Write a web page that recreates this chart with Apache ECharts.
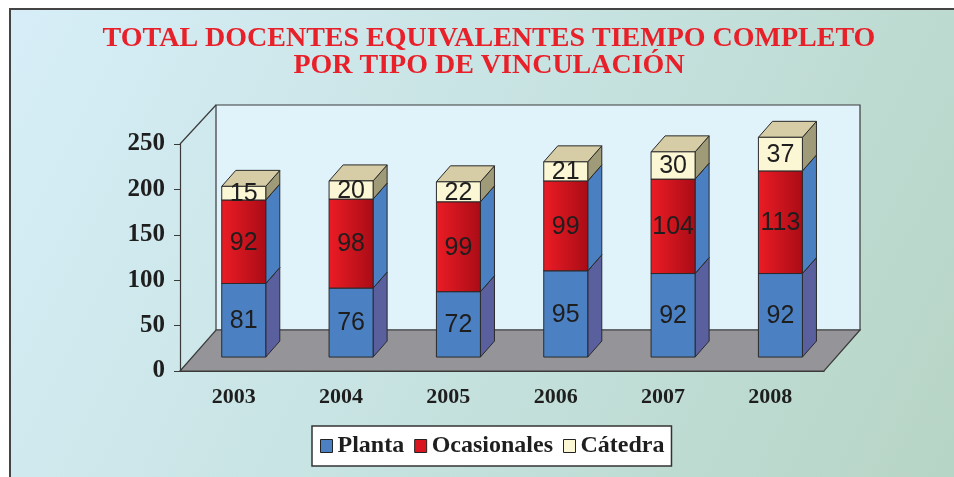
<!DOCTYPE html>
<html>
<head>
<meta charset="utf-8">
<script src="https://cdn.jsdelivr.net/npm/echarts@6/dist/echarts.min.js"></script>
<style>html,body{margin:0;padding:0;background:#fff;}#c{width:954px;height:477px;}</style>
</head>
<body>
<div id="c"></div>
<script>
const years = ['2003', '2004', '2005', '2006', '2007', '2008'];
const planta = [81, 76, 72, 95, 92, 92];
const ocasionales = [92, 98, 99, 99, 104, 113];
const catedra = [15, 20, 22, 21, 30, 37];
const seriesNames = ['Planta', 'Ocasionales', 'Cátedra'];
const yMin = 0, yMax = 250, yStep = 50;

const DX = 36, DY = -41;       // full depth of the 3D box
const FRONT_X = 0.28, FRONT_Y = 0.34, DEPTH = 0.39, BARW = 0.41;
const SERIF = '"Liberation Serif", "DejaVu Serif", serif';
const SANS = '"Liberation Sans", Arial, sans-serif';

const chart = echarts.init(document.getElementById('c'), null, {renderer: 'canvas'});

function barRender(frontFill, sideFill, topFill) {
  return function (params, api) {
    const i = api.value(0), base = api.value(1), v = api.value(2);
    const b = api.coord([i, base]);
    const t = api.coord([i, base + v]);
    const bw = api.size([1, 0])[0];
    const half = bw * BARW / 2;
    const fx = DX * FRONT_X, fy = DY * FRONT_Y;
    const x0 = b[0] + fx - half, x1 = b[0] + fx + half;
    const yb = b[1] + fy, yt = t[1] + fy;
    const sx = DX * DEPTH, sy = DY * DEPTH;
    const st = {stroke: '#2a2a2a', lineWidth: 1};
    return {
      type: 'group',
      children: [
        {type: 'polygon', shape: {points: [[x1, yb], [x1 + sx, yb + sy], [x1 + sx, yt + sy], [x1, yt]]},
          style: Object.assign({fill: sideFill}, st)},
        {type: 'polygon', shape: {points: [[x0, yt], [x1, yt], [x1 + sx, yt + sy], [x0 + sx, yt + sy]]},
          style: Object.assign({fill: topFill}, st)},
        {type: 'rect', shape: {x: x0, y: yt, width: x1 - x0, height: yb - yt},
          style: Object.assign({fill: frontFill}, st)},
        {type: 'text', style: {text: String(v), x: (x0 + x1) / 2, y: (yb + yt) / 2 + 1,
          align: 'center', verticalAlign: 'middle', fontSize: 25, fontFamily: SANS, fill: '#1e1e1e'}}
      ]
    };
  };
}

function frameRender(params, api) {
  const cs = params.coordSys;
  const x = cs.x, y = cs.y, w = cs.width, h = cs.height;
  const st = {stroke: '#3a3a3a', lineWidth: 1.2};
  return {
    type: 'group',
    children: [
      {type: 'rect', shape: {x: x + DX, y: y + DY + 2, width: w, height: h - 2},
        style: Object.assign({fill: '#e0f3fa'}, st)},
      {type: 'polygon', shape: {points: [[x, y + h], [x + w, y + h], [x + w + DX, y + h + DY], [x + DX, y + h + DY]]},
        style: Object.assign({fill: '#949499'}, st)},
      {type: 'line', shape: {x1: x, y1: y, x2: x + DX, y2: y + DY + 2}, style: st}
    ]
  };
}

const bases = [
  planta.map(() => 0),
  planta.slice(),
  planta.map((p, i) => p + ocasionales[i])
];
const vals = [planta, ocasionales, catedra];
const fronts = [
  '#4b80c3',
  new echarts.graphic.LinearGradient(0, 0, 1, 0, [{offset: 0, color: '#ec1c25'}, {offset: 1, color: '#a90c16'}]),
  '#fbf6d4'
];
const sides = ['#5a5f9d', '#4a7fc2', '#9f9a78'];
const tops = ['#d6cda6', '#d6cda6', '#d6cda6'];
const legendColors = ['#4b80c3', '#d9151f', '#fbf6d4'];

const series = [{
  type: 'custom', name: 'frame', z: 1, silent: true,
  renderItem: frameRender, data: [[0, 0]], encode: {x: 0, y: 1}
}];
seriesNames.forEach((n, k) => {
  series.push({
    type: 'custom', name: n, z: 3,
    itemStyle: {color: legendColors[k]},
    renderItem: barRender(fronts[k], sides[k], tops[k]),
    encode: {x: 0, y: 2},
    data: years.map((yr, i) => [i, bases[k][i], vals[k][i]])
  });
});

chart.setOption({
  animation: false,
  backgroundColor: '#ffffff',
  graphic: [{
    type: 'rect', z: -100, silent: true,
    shape: {x: 10, y: 9, width: 960, height: 490},
    style: {
      fill: new echarts.graphic.LinearGradient(0, 0, 1, 1, [
        {offset: 0, color: '#d7eef8'}, {offset: 0.5, color: '#c6e2e0'}, {offset: 1, color: '#b6d4c4'}]),
      stroke: '#444', lineWidth: 2
    }
  }],
  title: {
    text: 'TOTAL DOCENTES EQUIVALENTES TIEMPO COMPLETO\nPOR TIPO DE VINCULACIÓN',
    left: 484, top: 20, textAlign: 'center',
    textStyle: {fontFamily: SERIF, fontSize: 28, fontWeight: 'bold', color: '#e8202a', lineHeight: 27}
  },
  legend: {
    data: seriesNames,
    left: 312, top: 426,
    backgroundColor: '#ffffff', borderColor: '#333', borderWidth: 1.5,
    padding: [8, 7, 8, 8],
    icon: 'rect', itemWidth: 12, itemHeight: 13, itemGap: 10,
    itemStyle: {borderColor: '#222', borderWidth: 1},
    textStyle: {fontFamily: SERIF, fontSize: 24, fontWeight: 'bold', color: '#1e1e1e'}
  },
  grid: {left: 180, right: 130, top: 144, bottom: 106},
  xAxis: {
    type: 'category', data: years,
    axisLine: {lineStyle: {color: '#3a3a3a', width: 1.2}},
    axisTick: {length: 6, lineStyle: {color: '#3a3a3a'}},
    axisLabel: {fontFamily: SERIF, fontSize: 22, fontWeight: 'bold', color: '#1e1e1e', margin: 15}
  },
  yAxis: {
    type: 'value', min: yMin, max: yMax, interval: yStep,
    axisLine: {show: true, lineStyle: {color: '#3a3a3a', width: 1.2}},
    axisTick: {show: true, length: 6, lineStyle: {color: '#3a3a3a'}},
    splitLine: {show: false},
    axisLabel: {fontFamily: SERIF, fontSize: 25, fontWeight: 'bold', color: '#1e1e1e', margin: 15}
  },
  series: series
});
</script>
</body>
</html>
